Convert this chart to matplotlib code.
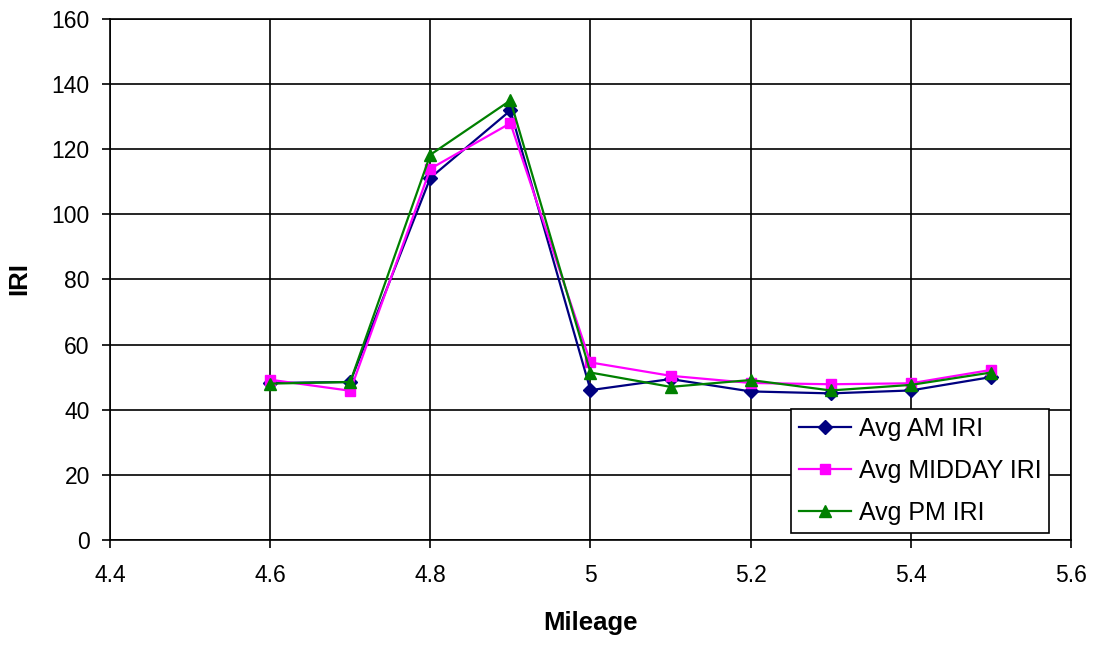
import matplotlib
matplotlib.use("Agg")
import matplotlib.pyplot as plt

plt.rcParams['font.family'] = ['Liberation Sans', 'DejaVu Sans']

mileage = [4.6, 4.7, 4.8, 4.9, 5.0, 5.1, 5.2, 5.3, 5.4, 5.5]
am_iri = [48.2, 48.5, 111.2, 131.9, 46.0, 49.4, 45.6, 45.0, 45.9, 50.0]
midday_iri = [49.2, 45.8, 114.0, 128.0, 54.5, 50.4, 48.2, 47.8, 48.1, 52.2]
pm_iri = [48.0, 48.5, 118.3, 135.0, 51.4, 47.0, 49.1, 45.9, 47.6, 51.4]

x_ticks = [4.4, 4.6, 4.8, 5.0, 5.2, 5.4, 5.6]
x_labels = ['4.4', '4.6', '4.8', '5', '5.2', '5.4', '5.6']
y_ticks = [0, 20, 40, 60, 80, 100, 120, 140, 160]

fig = plt.figure(figsize=(10.94, 6.45), dpi=100)
ax = fig.add_axes([0.1005, 0.163, 0.8785, 0.8075])

ax.plot(mileage, am_iri, color='#000080', marker='D', markersize=7, lw=1.6, label='Avg AM IRI')
ax.plot(mileage, midday_iri, color='#FF00FF', marker='s', markersize=7.5, lw=1.6, label='Avg MIDDAY IRI')
ax.plot(mileage, pm_iri, color='#008000', marker='^', markersize=9, lw=1.6, label='Avg PM IRI')

ax.set_xlim(4.4, 5.6)
ax.set_ylim(0, 160)
ax.set_xticks(x_ticks)
ax.set_xticklabels(x_labels)
ax.set_yticks(y_ticks)
ax.grid(True, color='black', lw=1.2)
ax.set_axisbelow(True)
for s in ax.spines.values():
    s.set_color('black')
    s.set_linewidth(1.2)
ax.tick_params(axis='both', labelsize=16.5, length=5.5, width=1.2, direction='out', colors='black')
ax.tick_params(axis='x', pad=12)
ax.tick_params(axis='y', pad=9)
ax.set_xlabel('Mileage', fontsize=18.5, fontweight='bold', va='center')
ax.xaxis.set_label_coords(0.4995, -0.159)
ax.set_ylabel('IRI', fontsize=18.5, fontweight='bold', va='center')
ax.yaxis.set_label_coords(-0.0947, 0.501)

leg = ax.legend(loc='lower right', bbox_to_anchor=(0.959, 0.1736), bbox_transform=fig.transFigure,
                fontsize=18, frameon=True, fancybox=False, edgecolor='black', framealpha=1,
                handlelength=2.1, handletextpad=0.3, borderpad=0.32, labelspacing=0.72,
                borderaxespad=0)
leg.get_frame().set_linewidth(1.2)

fig.savefig('out.png', dpi=100)
